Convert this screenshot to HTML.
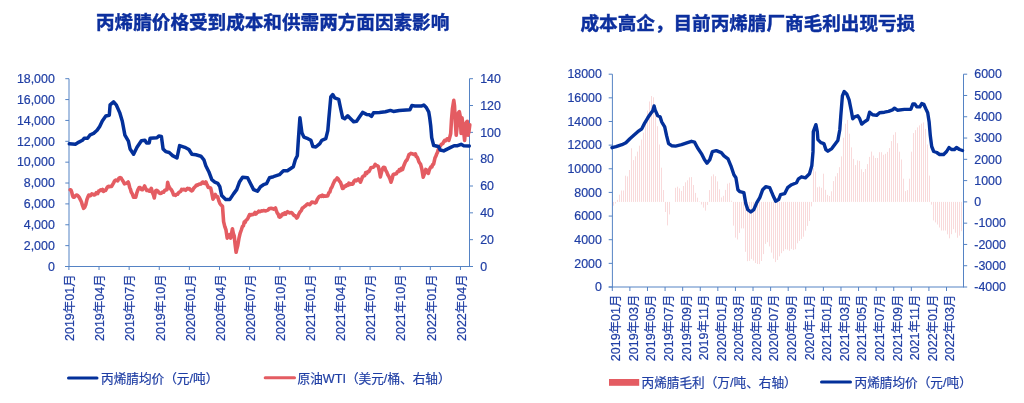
<!DOCTYPE html>
<html><head><meta charset="utf-8"><title>丙烯腈</title>
<style>
html,body{margin:0;padding:0;background:#fff;}
body{width:1024px;height:403px;overflow:hidden;}
svg{display:block;}
text{font-family:"Liberation Sans","Noto Sans CJK SC",sans-serif;font-size:12px;fill:#1f3ea4;stroke:#1f3ea4;stroke-width:0.2px;}
.lg{font-size:12.65px;}
.xl{font-size:12.5px;}
.yl{font-size:12.4px;}
.t{font-family:"Liberation Sans","Noto Sans CJK SC",sans-serif;font-size:18.6px;font-weight:bold;stroke:#0c2f9e;stroke-width:0.45px;fill:#0c2f9e;}
</style></head><body>
<svg width="1024" height="403" viewBox="0 0 1024 403">

<text class="t" x="96" y="29">丙烯腈价格受到成本和供需两方面因素影响</text>
<text class="t" x="580.5" y="30">成本高企，目前丙烯腈厂商毛利出现亏损</text>
<g stroke="#5583c4" stroke-width="1" fill="none"><line x1="69.0" y1="78.7" x2="69.0" y2="267.0"/><line x1="469.5" y1="78.7" x2="469.5" y2="267.0"/><line x1="65.0" y1="266.5" x2="469.5" y2="266.5"/><line x1="65.3" y1="78.70" x2="69.0" y2="78.70"/><line x1="65.3" y1="99.57" x2="69.0" y2="99.57"/><line x1="65.3" y1="120.43" x2="69.0" y2="120.43"/><line x1="65.3" y1="141.30" x2="69.0" y2="141.30"/><line x1="65.3" y1="162.17" x2="69.0" y2="162.17"/><line x1="65.3" y1="183.03" x2="69.0" y2="183.03"/><line x1="65.3" y1="203.90" x2="69.0" y2="203.90"/><line x1="65.3" y1="224.77" x2="69.0" y2="224.77"/><line x1="65.3" y1="245.63" x2="69.0" y2="245.63"/><line x1="65.3" y1="266.50" x2="69.0" y2="266.50"/><line x1="469.5" y1="78.70" x2="473.0" y2="78.70"/><line x1="469.5" y1="105.53" x2="473.0" y2="105.53"/><line x1="469.5" y1="132.36" x2="473.0" y2="132.36"/><line x1="469.5" y1="159.19" x2="473.0" y2="159.19"/><line x1="469.5" y1="186.01" x2="473.0" y2="186.01"/><line x1="469.5" y1="212.84" x2="473.0" y2="212.84"/><line x1="469.5" y1="239.67" x2="473.0" y2="239.67"/><line x1="469.5" y1="266.50" x2="473.0" y2="266.50"/><line x1="68.90" y1="266.5" x2="68.90" y2="270.0"/><line x1="99.02" y1="266.5" x2="99.02" y2="270.0"/><line x1="129.14" y1="266.5" x2="129.14" y2="270.0"/><line x1="159.26" y1="266.5" x2="159.26" y2="270.0"/><line x1="189.38" y1="266.5" x2="189.38" y2="270.0"/><line x1="219.50" y1="266.5" x2="219.50" y2="270.0"/><line x1="249.62" y1="266.5" x2="249.62" y2="270.0"/><line x1="279.74" y1="266.5" x2="279.74" y2="270.0"/><line x1="309.86" y1="266.5" x2="309.86" y2="270.0"/><line x1="339.98" y1="266.5" x2="339.98" y2="270.0"/><line x1="370.10" y1="266.5" x2="370.10" y2="270.0"/><line x1="400.22" y1="266.5" x2="400.22" y2="270.0"/><line x1="430.34" y1="266.5" x2="430.34" y2="270.0"/><line x1="460.46" y1="266.5" x2="460.46" y2="270.0"/></g>
<text class="yl" x="54.8" y="82.9" text-anchor="end">18,000</text>
<text class="yl" x="54.8" y="103.8" text-anchor="end">16,000</text>
<text class="yl" x="54.8" y="124.6" text-anchor="end">14,000</text>
<text class="yl" x="54.8" y="145.5" text-anchor="end">12,000</text>
<text class="yl" x="54.8" y="166.4" text-anchor="end">10,000</text>
<text class="yl" x="54.8" y="187.2" text-anchor="end">8,000</text>
<text class="yl" x="54.8" y="208.1" text-anchor="end">6,000</text>
<text class="yl" x="54.8" y="229.0" text-anchor="end">4,000</text>
<text class="yl" x="54.8" y="249.8" text-anchor="end">2,000</text>
<text class="yl" x="54.8" y="270.7" text-anchor="end">0</text>
<text class="yl" x="480.2" y="82.9">140</text>
<text class="yl" x="480.2" y="109.7">120</text>
<text class="yl" x="480.2" y="136.6">100</text>
<text class="yl" x="480.2" y="163.4">80</text>
<text class="yl" x="480.2" y="190.2">60</text>
<text class="yl" x="480.2" y="217.0">40</text>
<text class="yl" x="480.2" y="243.9">20</text>
<text class="yl" x="480.2" y="270.7">0</text>
<text transform="translate(74.1,274.3) rotate(-90)" class="xl" text-anchor="end">2019年01月</text>
<text transform="translate(104.2,274.3) rotate(-90)" class="xl" text-anchor="end">2019年04月</text>
<text transform="translate(134.3,274.3) rotate(-90)" class="xl" text-anchor="end">2019年07月</text>
<text transform="translate(164.5,274.3) rotate(-90)" class="xl" text-anchor="end">2019年10月</text>
<text transform="translate(194.6,274.3) rotate(-90)" class="xl" text-anchor="end">2020年01月</text>
<text transform="translate(224.7,274.3) rotate(-90)" class="xl" text-anchor="end">2020年04月</text>
<text transform="translate(254.8,274.3) rotate(-90)" class="xl" text-anchor="end">2020年07月</text>
<text transform="translate(284.9,274.3) rotate(-90)" class="xl" text-anchor="end">2020年10月</text>
<text transform="translate(315.1,274.3) rotate(-90)" class="xl" text-anchor="end">2021年01月</text>
<text transform="translate(345.2,274.3) rotate(-90)" class="xl" text-anchor="end">2021年04月</text>
<text transform="translate(375.3,274.3) rotate(-90)" class="xl" text-anchor="end">2021年07月</text>
<text transform="translate(405.4,274.3) rotate(-90)" class="xl" text-anchor="end">2021年10月</text>
<text transform="translate(435.5,274.3) rotate(-90)" class="xl" text-anchor="end">2022年01月</text>
<text transform="translate(465.7,274.3) rotate(-90)" class="xl" text-anchor="end">2022年04月</text>
<polyline points="70.2,189.8 71.0,190.0 71.7,192.0 72.5,195.4 73.2,197.2 74.3,197.1 75.4,195.7 76.5,195.0 77.6,195.4 78.3,196.3 79.1,197.2 80.2,199.3 81.4,201.7 82.5,205.4 83.6,208.4 84.7,207.2 85.8,204.6 86.9,199.6 88.1,196.5 88.8,195.0 89.6,195.7 90.7,195.6 91.8,193.9 92.9,194.3 94.0,195.0 95.2,194.5 96.3,192.7 97.7,193.5 98.7,191.1 99.7,190.9 100.7,189.8 101.6,190.5 102.6,189.5 103.5,191.4 104.4,190.5 105.6,190.4 106.7,188.3 107.7,186.7 108.6,186.2 109.6,186.8 110.6,186.2 111.6,186.4 112.6,184.6 113.6,182.8 114.6,180.9 115.6,180.1 116.7,180.3 117.8,180.8 118.9,178.1 120.1,177.6 121.2,178.2 122.3,180.1 123.4,181.8 124.5,183.8 125.7,183.4 126.8,183.1 128.2,182.0 128.9,184.1 129.7,187.5 130.4,189.1 131.2,192.0 132.3,193.9 133.5,197.2 134.6,197.1 135.7,197.2 136.8,193.0 137.9,189.8 139.1,187.5 140.2,187.5 141.3,189.5 142.4,189.8 143.5,188.0 144.6,186.0 145.7,188.6 146.8,190.5 147.9,190.1 149.1,191.2 150.2,190.9 151.3,188.3 152.4,192.5 153.5,195.0 154.3,198.0 155.1,193.3 155.8,190.5 156.9,190.4 158.0,191.2 159.1,192.9 160.2,193.5 161.3,193.3 162.5,192.0 163.6,192.3 164.7,190.5 165.8,190.0 166.9,189.8 167.7,182.3 168.4,185.3 169.2,186.8 170.3,188.7 171.4,189.8 172.5,191.9 173.6,195.0 174.6,194.9 175.6,195.4 176.6,194.2 177.6,194.3 178.6,192.7 179.6,192.0 180.6,191.5 181.6,189.4 182.6,189.8 183.6,189.2 184.7,189.8 185.6,190.3 186.6,189.1 187.5,188.3 188.5,189.0 189.4,188.6 190.6,190.2 191.8,190.9 192.7,190.1 193.7,188.2 194.6,187.2 195.6,186.2 196.5,185.0 197.4,185.4 198.4,184.6 199.3,184.1 200.3,184.1 201.2,183.9 202.1,182.4 203.1,182.0 204.0,183.2 205.0,183.5 205.9,182.0 207.1,184.9 208.3,187.4 209.5,187.5 210.7,188.1 211.8,192.9 213.0,199.2 214.2,196.9 215.4,194.5 216.6,196.8 217.7,196.8 218.9,201.0 220.1,203.9 221.3,205.2 222.5,206.3 223.6,221.6 224.8,226.6 226.0,229.9 227.2,238.1 228.3,235.7 229.5,234.6 230.7,238.1 231.6,233.4 232.4,228.7 233.3,233.3 234.2,235.8 235.1,244.2 236.1,252.3 236.9,248.7 237.8,245.2 238.9,238.7 240.1,233.4 241.3,230.0 242.5,226.3 243.4,225.9 244.2,222.2 245.1,222.6 246.0,220.4 246.9,219.7 247.8,218.4 248.7,216.6 249.6,214.5 250.5,215.2 251.3,214.5 252.2,214.6 253.1,214.5 254.0,213.9 255.0,212.5 255.9,214.0 256.9,212.8 257.8,212.2 258.7,211.2 259.7,211.7 260.6,211.4 261.6,210.9 262.5,211.0 263.5,210.5 264.4,210.8 265.4,210.9 266.3,210.7 267.3,210.3 268.2,209.9 269.2,208.5 270.1,208.6 271.1,208.2 272.0,208.6 272.9,208.6 273.8,209.1 274.6,208.8 275.5,207.9 276.4,210.9 277.3,213.2 278.2,214.1 279.1,216.9 280.0,217.2 281.0,216.4 281.9,214.5 282.9,213.8 283.8,214.5 284.7,212.9 285.7,214.2 286.6,212.5 287.6,211.7 288.5,212.2 289.4,213.0 290.4,212.7 291.3,212.5 292.3,213.2 293.2,214.5 294.1,215.5 294.9,215.5 295.8,216.7 296.7,218.1 297.6,217.0 298.5,214.8 299.4,212.9 300.3,211.7 301.4,210.3 302.4,208.0 303.4,207.5 304.5,206.5 305.6,205.8 306.6,204.7 307.6,203.9 308.7,204.3 309.8,204.7 310.8,203.3 311.8,202.0 312.9,202.2 314.0,202.5 315.0,203.0 316.1,202.2 317.2,199.5 318.2,197.9 319.2,196.6 320.3,195.9 321.4,196.4 322.4,195.1 323.4,196.4 324.5,195.9 325.6,196.3 326.6,196.0 327.7,195.9 328.8,192.8 329.8,192.1 330.9,188.5 331.9,187.1 333.0,184.3 334.0,182.2 335.1,180.1 336.1,179.8 337.2,178.0 338.3,179.1 339.3,181.0 340.4,182.2 341.4,184.9 342.5,188.5 343.5,188.1 344.6,186.0 345.6,186.4 346.7,184.8 347.7,185.4 348.8,183.2 349.9,184.5 350.9,183.5 352.0,184.3 353.0,183.8 354.1,181.0 355.1,180.1 356.2,180.8 357.2,180.0 358.3,179.0 359.4,180.4 360.4,182.2 361.5,179.5 362.5,176.8 363.6,175.9 364.7,175.7 365.7,172.6 366.8,173.4 367.8,171.6 368.9,171.7 369.9,169.7 370.9,167.7 372.0,167.4 373.1,167.2 374.1,166.5 375.2,164.3 376.2,165.5 377.3,165.7 378.3,166.4 379.4,171.4 380.4,176.9 381.5,172.3 382.6,168.5 383.6,167.2 384.7,167.4 385.7,170.3 386.8,172.2 387.8,174.8 388.9,176.5 389.9,178.8 391.0,182.2 392.1,178.9 393.1,174.8 394.2,174.0 395.2,174.1 396.3,173.8 397.3,171.9 398.4,171.8 399.4,169.5 400.5,170.5 401.5,168.3 402.6,169.5 403.7,166.0 404.7,163.5 405.8,161.1 406.8,160.2 407.9,157.6 408.9,154.8 410.0,154.0 411.0,153.4 412.1,153.7 413.2,154.2 414.3,154.6 415.4,153.8 416.3,156.6 417.1,156.9 418.0,159.0 418.9,161.7 419.7,162.9 420.6,164.2 421.9,169.4 423.2,177.2 424.1,174.6 424.9,173.2 425.8,169.4 426.7,170.1 427.5,172.5 428.4,173.3 429.3,170.1 430.1,168.2 431.0,166.8 431.9,166.9 432.7,164.4 433.6,164.2 435.0,157.8 435.9,156.2 436.8,153.7 437.6,152.1 438.5,149.1 439.4,147.5 440.2,146.1 441.1,144.7 442.0,143.9 442.9,143.6 443.7,141.8 444.6,140.4 445.5,140.9 446.3,140.2 447.2,138.7 448.0,138.7 448.9,140.4 449.8,137.1 450.7,133.5 451.5,119.6 452.4,109.1 453.8,100.4 454.5,105.7 455.5,124.8 456.2,135.2 457.3,124.8 458.5,112.6 459.3,111.7 460.2,116.1 461.1,133.5 462.0,117.8 462.8,124.8 463.7,131.7 464.6,140.4 466.0,123.0 467.2,121.3 468.0,135.2 468.9,131.7 469.8,124.8" fill="none" stroke="#e45c62" stroke-width="3.6" stroke-linejoin="round" stroke-linecap="round"/>
<polyline points="69.3,143.8 75.4,144.2 78.9,142.1 82.4,140.3 84.1,138.3 87.6,138.3 90.2,134.8 93.6,133.4 97.1,130.3 99.7,126.5 102.3,120.9 105.8,116.0 109.3,115.2 110.1,104.8 113.6,101.8 116.2,104.8 119.7,112.6 122.3,121.3 124.9,135.1 128.4,141.2 130.1,149.0 133.6,154.2 137.0,147.3 141.4,140.7 144.9,140.3 146.6,143.0 149.2,143.0 150.1,138.3 157.0,137.7 158.8,136.0 161.4,136.5 163.1,149.0 165.7,151.6 169.2,152.5 172.6,155.6 177.0,158.0 179.6,145.6 184.8,147.3 188.9,149.5 191.9,154.3 195.9,154.8 200.9,156.2 203.9,159.8 205.8,165.8 208.8,171.7 211.8,179.7 214.8,182.1 217.8,183.3 219.8,186.7 221.7,195.6 225.7,199.6 229.7,199.6 233.7,193.6 236.7,189.6 239.6,181.7 242.6,177.3 247.6,177.7 250.6,183.7 253.6,189.6 257.5,191.2 260.5,186.7 263.5,184.7 266.5,183.7 269.5,177.7 273.4,176.7 279.4,174.7 283.4,170.8 287.4,170.8 293.3,166.8 295.3,159.8 297.3,155.8 298.3,140.7 299.9,117.8 301.9,132.7 303.9,137.1 307.9,138.7 310.9,140.3 312.9,146.6 315.8,147.0 319.8,143.6 321.8,140.3 325.8,138.7 327.8,130.7 328.8,118.8 330.8,96.9 332.7,94.5 334.7,97.9 338.7,99.3 340.7,108.9 342.7,117.8 344.7,118.8 347.7,115.8 350.6,118.8 353.6,121.8 356.6,121.2 359.6,116.8 362.6,112.4 366.5,114.4 369.5,114.8 371.5,116.4 373.5,112.8 379.5,112.4 385.4,111.8 390.4,110.4 393.4,111.4 399.3,110.4 409.9,109.8 411.9,105.5 414.8,105.9 421.8,105.9 423.8,105.1 426.3,107.5 428.7,111.8 429.7,117.8 430.7,125.7 431.7,137.6 433.7,145.6 435.0,145.7 438.5,146.5 440.2,150.0 443.7,150.9 447.2,149.1 450.7,147.4 454.1,145.7 457.6,145.7 461.1,144.3 463.7,145.7 469.3,146.0" fill="none" stroke="#03309a" stroke-width="3.5" stroke-linejoin="round" stroke-linecap="round"/>
<line x1="68.5" y1="378" x2="97" y2="378" stroke="#03309a" stroke-width="3" stroke-linecap="round"/>
<text class="lg" x="101" y="382.6">丙烯腈均价（元/吨）</text>
<line x1="265.2" y1="377.8" x2="294.5" y2="377.8" stroke="#e45c62" stroke-width="3" stroke-linecap="round"/>
<text class="lg" x="297.5" y="382.6">原油WTI（美元/桶、右轴）</text>
<g fill="#f9dadb"><rect x="613" y="201.9" width="1" height="3.8"/><rect x="615" y="201.9" width="1" height="1.6"/><rect x="617" y="199.9" width="1" height="2.0"/><rect x="619" y="194.7" width="1" height="7.2"/><rect x="621" y="190.5" width="1" height="11.4"/><rect x="623" y="190.5" width="1" height="11.4"/><rect x="625" y="175.7" width="1" height="26.2"/><rect x="627" y="176.4" width="1" height="25.5"/><rect x="629" y="170.0" width="1" height="31.9"/><rect x="631" y="148.3" width="1" height="53.6"/><rect x="633" y="160.1" width="1" height="41.8"/><rect x="635" y="156.3" width="1" height="45.6"/><rect x="637" y="151.6" width="1" height="50.3"/><rect x="639" y="145.7" width="1" height="56.1"/><rect x="641" y="139.5" width="1" height="62.4"/><rect x="643" y="132.6" width="1" height="69.2"/><rect x="645" y="122.7" width="1" height="79.2"/><rect x="647" y="110.6" width="1" height="91.3"/><rect x="649" y="101.5" width="1" height="100.4"/><rect x="651" y="96.0" width="1" height="105.9"/><rect x="653" y="97.3" width="1" height="104.6"/><rect x="655" y="110.6" width="1" height="91.3"/><rect x="657" y="126.2" width="1" height="75.6"/><rect x="659" y="144.5" width="1" height="57.4"/><rect x="661" y="167.7" width="1" height="34.2"/><rect x="663" y="190.0" width="1" height="11.9"/><rect x="665" y="201.9" width="1" height="10.1"/><rect x="667" y="201.9" width="1" height="23.5"/><rect x="669" y="201.9" width="1" height="12.5"/><rect x="675" y="187.8" width="1" height="14.1"/><rect x="677" y="186.7" width="1" height="15.2"/><rect x="679" y="188.4" width="1" height="13.4"/><rect x="681" y="190.9" width="1" height="10.9"/><rect x="683" y="186.0" width="1" height="15.9"/><rect x="685" y="182.3" width="1" height="19.6"/><rect x="687" y="180.3" width="1" height="21.6"/><rect x="689" y="177.4" width="1" height="24.5"/><rect x="691" y="177.1" width="1" height="24.8"/><rect x="693" y="185.0" width="1" height="16.8"/><rect x="695" y="192.9" width="1" height="9.0"/><rect x="697" y="197.7" width="1" height="4.2"/><rect x="699" y="201.5" width="1" height="0.4"/><rect x="701" y="201.9" width="1" height="2.6"/><rect x="703" y="201.9" width="1" height="5.7"/><rect x="705" y="201.9" width="1" height="8.7"/><rect x="707" y="201.9" width="1" height="3.0"/><rect x="709" y="190.1" width="1" height="11.8"/><rect x="711" y="176.3" width="1" height="25.6"/><rect x="713" y="174.4" width="1" height="27.5"/><rect x="715" y="176.2" width="1" height="25.7"/><rect x="717" y="181.4" width="1" height="20.5"/><rect x="719" y="189.3" width="1" height="12.6"/><rect x="721" y="197.5" width="1" height="4.3"/><rect x="723" y="195.8" width="1" height="6.0"/><rect x="725" y="189.9" width="1" height="12.0"/><rect x="727" y="183.7" width="1" height="18.2"/><rect x="729" y="182.8" width="1" height="19.1"/><rect x="731" y="200.7" width="1" height="1.1"/><rect x="733" y="201.9" width="1" height="23.7"/><rect x="735" y="201.9" width="1" height="35.7"/><rect x="737" y="201.9" width="1" height="37.6"/><rect x="739" y="201.9" width="1" height="31.0"/><rect x="741" y="201.9" width="1" height="26.5"/><rect x="743" y="201.9" width="1" height="26.5"/><rect x="745" y="201.9" width="1" height="49.9"/><rect x="747" y="201.9" width="1" height="59.3"/><rect x="749" y="201.9" width="1" height="59.0"/><rect x="751" y="201.9" width="1" height="57.0"/><rect x="753" y="201.9" width="1" height="58.7"/><rect x="755" y="201.9" width="1" height="61.1"/><rect x="757" y="201.9" width="1" height="62.1"/><rect x="759" y="201.9" width="1" height="62.2"/><rect x="761" y="201.9" width="1" height="59.1"/><rect x="763" y="201.9" width="1" height="52.2"/><rect x="765" y="201.9" width="1" height="42.0"/><rect x="767" y="201.9" width="1" height="40.3"/><rect x="769" y="201.9" width="1" height="44.5"/><rect x="771" y="201.9" width="1" height="50.7"/><rect x="773" y="201.9" width="1" height="56.7"/><rect x="775" y="201.9" width="1" height="60.2"/><rect x="777" y="201.9" width="1" height="58.1"/><rect x="779" y="201.9" width="1" height="54.4"/><rect x="781" y="201.9" width="1" height="51.3"/><rect x="783" y="201.9" width="1" height="49.2"/><rect x="785" y="201.9" width="1" height="47.3"/><rect x="787" y="201.9" width="1" height="47.7"/><rect x="789" y="201.9" width="1" height="48.9"/><rect x="791" y="201.9" width="1" height="47.0"/><rect x="793" y="201.9" width="1" height="48.0"/><rect x="795" y="201.9" width="1" height="47.3"/><rect x="797" y="201.9" width="1" height="41.4"/><rect x="799" y="201.9" width="1" height="39.0"/><rect x="801" y="201.9" width="1" height="37.0"/><rect x="803" y="201.9" width="1" height="34.8"/><rect x="805" y="201.9" width="1" height="28.7"/><rect x="807" y="201.9" width="1" height="24.0"/><rect x="809" y="201.9" width="1" height="19.1"/><rect x="811" y="201.9" width="1" height="4.5"/><rect x="813" y="168.2" width="1" height="33.7"/><rect x="815" y="171.5" width="1" height="30.4"/><rect x="817" y="187.3" width="1" height="14.6"/><rect x="819" y="186.6" width="1" height="15.2"/><rect x="821" y="187.8" width="1" height="14.1"/><rect x="823" y="173.7" width="1" height="28.2"/><rect x="825" y="189.8" width="1" height="12.1"/><rect x="827" y="194.9" width="1" height="6.9"/><rect x="829" y="196.0" width="1" height="5.9"/><rect x="831" y="191.3" width="1" height="10.6"/><rect x="833" y="181.1" width="1" height="20.7"/><rect x="835" y="176.4" width="1" height="25.5"/><rect x="837" y="173.1" width="1" height="28.8"/><rect x="839" y="167.2" width="1" height="34.7"/><rect x="841" y="156.4" width="1" height="45.5"/><rect x="843" y="137.7" width="1" height="64.2"/><rect x="845" y="123.7" width="1" height="78.2"/><rect x="847" y="119.9" width="1" height="82.0"/><rect x="849" y="133.7" width="1" height="68.2"/><rect x="851" y="147.4" width="1" height="54.4"/><rect x="853" y="158.9" width="1" height="42.9"/><rect x="855" y="165.1" width="1" height="36.8"/><rect x="857" y="160.4" width="1" height="41.5"/><rect x="859" y="160.9" width="1" height="41.0"/><rect x="861" y="169.3" width="1" height="32.6"/><rect x="863" y="172.0" width="1" height="29.9"/><rect x="865" y="169.0" width="1" height="32.8"/><rect x="867" y="164.1" width="1" height="37.8"/><rect x="869" y="156.9" width="1" height="44.9"/><rect x="871" y="151.6" width="1" height="50.3"/><rect x="873" y="155.6" width="1" height="46.3"/><rect x="875" y="158.0" width="1" height="43.9"/><rect x="877" y="158.0" width="1" height="43.8"/><rect x="879" y="152.2" width="1" height="49.6"/><rect x="881" y="152.2" width="1" height="49.7"/><rect x="883" y="154.8" width="1" height="47.1"/><rect x="885" y="153.8" width="1" height="48.1"/><rect x="887" y="151.9" width="1" height="49.9"/><rect x="889" y="148.1" width="1" height="53.8"/><rect x="891" y="141.1" width="1" height="60.8"/><rect x="893" y="134.8" width="1" height="67.1"/><rect x="895" y="132.2" width="1" height="69.7"/><rect x="897" y="143.2" width="1" height="58.6"/><rect x="899" y="151.7" width="1" height="50.2"/><rect x="901" y="159.5" width="1" height="42.4"/><rect x="903" y="178.7" width="1" height="23.2"/><rect x="905" y="191.1" width="1" height="10.7"/><rect x="907" y="190.1" width="1" height="11.8"/><rect x="909" y="178.7" width="1" height="23.2"/><rect x="911" y="151.7" width="1" height="50.1"/><rect x="913" y="133.1" width="1" height="68.7"/><rect x="915" y="130.1" width="1" height="71.8"/><rect x="917" y="127.4" width="1" height="74.5"/><rect x="919" y="125.4" width="1" height="76.5"/><rect x="921" y="123.6" width="1" height="78.3"/><rect x="923" y="122.4" width="1" height="79.5"/><rect x="925" y="128.9" width="1" height="73.0"/><rect x="927" y="144.5" width="1" height="57.4"/><rect x="929" y="175.6" width="1" height="26.3"/><rect x="931" y="201.9" width="1" height="2.7"/><rect x="933" y="201.9" width="1" height="18.5"/><rect x="935" y="201.9" width="1" height="20.5"/><rect x="937" y="201.9" width="1" height="22.6"/><rect x="939" y="201.9" width="1" height="25.6"/><rect x="941" y="201.9" width="1" height="28.6"/><rect x="943" y="201.9" width="1" height="28.6"/><rect x="945" y="201.9" width="1" height="28.6"/><rect x="947" y="201.9" width="1" height="32.4"/><rect x="949" y="201.9" width="1" height="36.4"/><rect x="951" y="201.9" width="1" height="32.3"/><rect x="953" y="201.9" width="1" height="27.3"/><rect x="955" y="201.9" width="1" height="30.8"/><rect x="957" y="201.9" width="1" height="35.8"/><rect x="959" y="201.9" width="1" height="33.7"/><rect x="961" y="201.9" width="1" height="29.3"/></g>
<g stroke="#5583c4" stroke-width="1" fill="none"><line x1="612.4" y1="74.2" x2="612.4" y2="287.5"/><line x1="963.5" y1="74.2" x2="963.5" y2="287.5"/><line x1="608.6999999999999" y1="287.0" x2="963.5" y2="287.0"/><line x1="608.6999999999999" y1="74.20" x2="612.4" y2="74.20"/><line x1="608.6999999999999" y1="97.84" x2="612.4" y2="97.84"/><line x1="608.6999999999999" y1="121.49" x2="612.4" y2="121.49"/><line x1="608.6999999999999" y1="145.13" x2="612.4" y2="145.13"/><line x1="608.6999999999999" y1="168.78" x2="612.4" y2="168.78"/><line x1="608.6999999999999" y1="192.42" x2="612.4" y2="192.42"/><line x1="608.6999999999999" y1="216.07" x2="612.4" y2="216.07"/><line x1="608.6999999999999" y1="239.71" x2="612.4" y2="239.71"/><line x1="608.6999999999999" y1="263.36" x2="612.4" y2="263.36"/><line x1="608.6999999999999" y1="287.00" x2="612.4" y2="287.00"/><line x1="963.5" y1="74.20" x2="967.2" y2="74.20"/><line x1="963.5" y1="95.48" x2="967.2" y2="95.48"/><line x1="963.5" y1="116.76" x2="967.2" y2="116.76"/><line x1="963.5" y1="138.04" x2="967.2" y2="138.04"/><line x1="963.5" y1="159.32" x2="967.2" y2="159.32"/><line x1="963.5" y1="180.60" x2="967.2" y2="180.60"/><line x1="963.5" y1="201.88" x2="967.2" y2="201.88"/><line x1="963.5" y1="223.16" x2="967.2" y2="223.16"/><line x1="963.5" y1="244.44" x2="967.2" y2="244.44"/><line x1="963.5" y1="265.72" x2="967.2" y2="265.72"/><line x1="963.5" y1="287.00" x2="967.2" y2="287.00"/><line x1="612.30" y1="287.0" x2="612.30" y2="291.0"/><line x1="629.89" y1="287.0" x2="629.89" y2="291.0"/><line x1="647.48" y1="287.0" x2="647.48" y2="291.0"/><line x1="665.07" y1="287.0" x2="665.07" y2="291.0"/><line x1="682.66" y1="287.0" x2="682.66" y2="291.0"/><line x1="700.25" y1="287.0" x2="700.25" y2="291.0"/><line x1="717.84" y1="287.0" x2="717.84" y2="291.0"/><line x1="735.43" y1="287.0" x2="735.43" y2="291.0"/><line x1="753.02" y1="287.0" x2="753.02" y2="291.0"/><line x1="770.61" y1="287.0" x2="770.61" y2="291.0"/><line x1="788.20" y1="287.0" x2="788.20" y2="291.0"/><line x1="805.79" y1="287.0" x2="805.79" y2="291.0"/><line x1="823.38" y1="287.0" x2="823.38" y2="291.0"/><line x1="840.97" y1="287.0" x2="840.97" y2="291.0"/><line x1="858.56" y1="287.0" x2="858.56" y2="291.0"/><line x1="876.15" y1="287.0" x2="876.15" y2="291.0"/><line x1="893.74" y1="287.0" x2="893.74" y2="291.0"/><line x1="911.33" y1="287.0" x2="911.33" y2="291.0"/><line x1="928.92" y1="287.0" x2="928.92" y2="291.0"/><line x1="946.51" y1="287.0" x2="946.51" y2="291.0"/></g>
<text class="yl" x="601.9" y="78.4" text-anchor="end">18000</text>
<text class="yl" x="601.9" y="102.0" text-anchor="end">16000</text>
<text class="yl" x="601.9" y="125.7" text-anchor="end">14000</text>
<text class="yl" x="601.9" y="149.3" text-anchor="end">12000</text>
<text class="yl" x="601.9" y="173.0" text-anchor="end">10000</text>
<text class="yl" x="601.9" y="196.6" text-anchor="end">8000</text>
<text class="yl" x="601.9" y="220.3" text-anchor="end">6000</text>
<text class="yl" x="601.9" y="243.9" text-anchor="end">4000</text>
<text class="yl" x="601.9" y="267.6" text-anchor="end">2000</text>
<text class="yl" x="601.9" y="291.2" text-anchor="end">0</text>
<text class="yl" x="974.3" y="78.4">6000</text>
<text class="yl" x="974.3" y="99.7">5000</text>
<text class="yl" x="974.3" y="121.0">4000</text>
<text class="yl" x="974.3" y="142.2">3000</text>
<text class="yl" x="974.3" y="163.5">2000</text>
<text class="yl" x="974.3" y="184.8">1000</text>
<text class="yl" x="974.3" y="206.1">0</text>
<text class="yl" x="974.3" y="227.4">-1000</text>
<text class="yl" x="974.3" y="248.6">-2000</text>
<text class="yl" x="974.3" y="269.9">-3000</text>
<text class="yl" x="974.3" y="291.2">-4000</text>
<text transform="translate(620.2,294.5) rotate(-90)" class="xl" text-anchor="end">2019年01月</text>
<text transform="translate(637.8,294.5) rotate(-90)" class="xl" text-anchor="end">2019年03月</text>
<text transform="translate(655.4,294.5) rotate(-90)" class="xl" text-anchor="end">2019年05月</text>
<text transform="translate(672.9,294.5) rotate(-90)" class="xl" text-anchor="end">2019年07月</text>
<text transform="translate(690.5,294.5) rotate(-90)" class="xl" text-anchor="end">2019年09月</text>
<text transform="translate(708.1,294.5) rotate(-90)" class="xl" text-anchor="end">2019年11月</text>
<text transform="translate(725.7,294.5) rotate(-90)" class="xl" text-anchor="end">2020年01月</text>
<text transform="translate(743.3,294.5) rotate(-90)" class="xl" text-anchor="end">2020年03月</text>
<text transform="translate(760.8,294.5) rotate(-90)" class="xl" text-anchor="end">2020年05月</text>
<text transform="translate(778.4,294.5) rotate(-90)" class="xl" text-anchor="end">2020年07月</text>
<text transform="translate(796.0,294.5) rotate(-90)" class="xl" text-anchor="end">2020年09月</text>
<text transform="translate(813.6,294.5) rotate(-90)" class="xl" text-anchor="end">2020年11月</text>
<text transform="translate(831.2,294.5) rotate(-90)" class="xl" text-anchor="end">2021年01月</text>
<text transform="translate(848.7,294.5) rotate(-90)" class="xl" text-anchor="end">2021年03月</text>
<text transform="translate(866.3,294.5) rotate(-90)" class="xl" text-anchor="end">2021年05月</text>
<text transform="translate(883.9,294.5) rotate(-90)" class="xl" text-anchor="end">2021年07月</text>
<text transform="translate(901.5,294.5) rotate(-90)" class="xl" text-anchor="end">2021年09月</text>
<text transform="translate(919.1,294.5) rotate(-90)" class="xl" text-anchor="end">2021年11月</text>
<text transform="translate(936.6,294.5) rotate(-90)" class="xl" text-anchor="end">2022年01月</text>
<text transform="translate(954.2,294.5) rotate(-90)" class="xl" text-anchor="end">2022年03月</text>
<polyline points="612.0,147.7 616.0,146.7 621.9,144.7 625.9,142.7 629.9,138.7 633.8,135.3 637.8,131.7 641.8,128.8 644.8,122.8 647.8,117.8 650.7,113.5 652.7,110.9 654.1,105.9 655.1,109.9 657.7,115.8 660.1,116.8 661.7,121.8 664.7,126.8 666.6,135.7 668.6,143.7 671.6,145.7 675.6,146.1 681.6,144.7 687.5,142.7 691.5,141.3 694.5,142.1 697.5,147.7 701.4,153.6 704.4,159.6 707.0,163.2 709.8,159.6 712.4,151.6 716.3,150.6 721.3,152.6 724.0,155.9 728.0,158.9 730.9,165.8 733.9,174.8 735.9,177.8 737.9,189.7 739.9,191.7 743.9,192.7 745.8,203.6 747.8,209.6 750.8,212.0 753.8,209.6 756.8,202.6 759.8,197.7 762.7,189.7 765.7,186.7 769.7,187.7 772.7,194.7 775.7,201.2 778.6,199.6 780.6,194.7 784.6,193.7 787.6,187.7 791.6,184.7 796.5,182.7 798.5,178.8 801.5,176.8 805.5,177.8 809.5,173.8 811.8,165.8 813.0,151.9 813.3,131.7 815.9,124.7 817.3,131.7 817.9,139.6 820.9,142.6 823.9,143.6 825.9,149.6 827.9,151.2 831.8,148.6 834.8,144.6 837.8,140.6 839.8,129.7 840.8,115.8 842.4,95.9 844.2,91.5 846.7,93.9 849.1,99.9 851.1,109.8 852.7,118.8 854.7,116.8 857.7,115.8 859.7,118.8 861.7,124.1 864.6,121.7 867.6,119.8 869.6,112.2 872.6,114.8 876.6,115.4 879.6,112.8 884.5,112.2 888.5,111.4 892.5,109.8 894.5,108.2 897.4,110.2 904.4,109.4 910.9,109.2 912.9,103.9 914.8,103.9 916.8,106.9 919.8,106.9 921.8,103.5 923.8,104.3 925.8,108.8 927.7,112.8 929.1,121.7 930.3,135.6 931.7,146.5 933.7,151.5 936.7,152.5 939.6,154.5 943.6,154.5 946.6,151.5 949.0,147.5 951.5,149.5 954.5,149.5 956.5,147.5 959.5,149.5 962.5,150.5" fill="none" stroke="#03309a" stroke-width="3.4" stroke-linejoin="round" stroke-linecap="round"/>
<rect x="609" y="379" width="30.2" height="6.8" fill="#e45c62"/>
<text class="lg" x="641.5" y="387">丙烯腈毛利（万/吨、右轴）</text>
<line x1="821.5" y1="382" x2="850.5" y2="382" stroke="#03309a" stroke-width="3" stroke-linecap="round"/>
<text class="lg" x="854.5" y="386.6">丙烯腈均价（元/吨）</text>
</svg></body></html>
